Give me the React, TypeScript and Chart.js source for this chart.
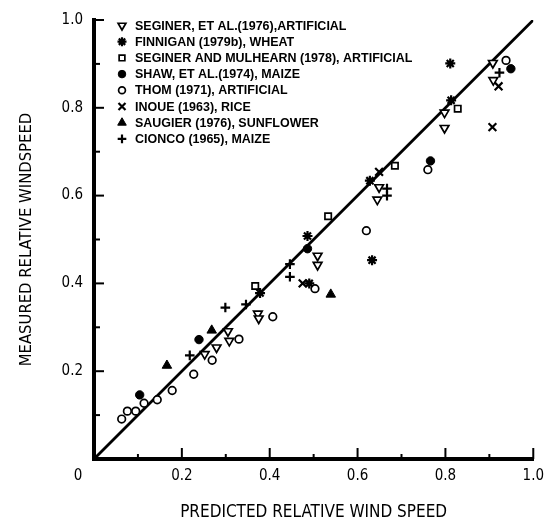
import React, { useEffect, useRef } from "react";
import { Chart, registerables } from "chart.js";
import { drawPoint } from "chart.js/helpers";
Chart.register(...registerables);

// ---- data (predicted, measured) ----
const seginerEtAl: number[][] = [
  [0.252, 0.239], [0.279, 0.254], [0.305, 0.291], [0.308, 0.269], [0.373, 0.331], [0.375, 0.32],
  [0.509, 0.463], [0.509, 0.442], [0.649, 0.619], [0.645, 0.591], [0.798, 0.789], [0.798, 0.754],
  [0.908, 0.902], [0.909, 0.863],
];
const finnigan: number[][] = [
  [0.378, 0.378], [0.486, 0.508], [0.49, 0.4], [0.628, 0.634], [0.633, 0.453], [0.813, 0.817], [0.811, 0.901],
];
const seginerMulhearn: number[][] = [
  [0.367, 0.394], [0.533, 0.553], [0.685, 0.668], [0.828, 0.798],
];
const shaw: number[][] = [
  [0.104, 0.146], [0.239, 0.272], [0.486, 0.479], [0.766, 0.679], [0.949, 0.889],
];
const thom: number[][] = [
  [0.063, 0.091], [0.076, 0.109], [0.095, 0.109], [0.114, 0.127], [0.144, 0.135], [0.178, 0.156],
  [0.227, 0.193], [0.269, 0.225], [0.33, 0.273], [0.407, 0.324], [0.503, 0.388], [0.62, 0.52],
  [0.76, 0.659], [0.938, 0.908],
];
const inoue: number[][] = [
  [0.475, 0.4], [0.649, 0.654], [0.921, 0.849], [0.907, 0.756],
];
const saugier: number[][] = [
  [0.166, 0.213], [0.268, 0.293], [0.539, 0.375],
];
const cionco: number[][] = [
  [0.218, 0.236], [0.299, 0.345], [0.346, 0.352], [0.446, 0.444], [0.446, 0.415],
  [0.667, 0.616], [0.667, 0.6], [0.923, 0.88],
];
const oneToOne: number[][] = [[0, 0], [1, 1]];

const seriesLabels = [
  "SEGINER, ET AL.(1976),ARTIFICIAL",
  "FINNIGAN (1979b), WHEAT",
  "SEGINER AND MULHEARN (1978), ARTIFICIAL",
  "SHAW, ET AL.(1974), MAIZE",
  "THOM (1971), ARTIFICIAL",
  "INOUE (1963), RICE",
  "SAUGIER (1976), SUNFLOWER",
  "CIONCO (1965), MAIZE",
];
const xTitle = "PREDICTED RELATIVE WIND SPEED";
const yTitle = "MEASURED RELATIVE WINDSPEED";

const seriesData = [seginerEtAl, finnigan, seginerMulhearn, shaw, thom, inoue, saugier, cionco];
const seriesStyles = [
  { pointStyle: "triangle", rotation: 180, fill: "#fff", radius: 5, bw: 1.7 },
  { pointStyle: "star", rotation: 0, fill: "#000", radius: 5, bw: 2.2 },
  { pointStyle: "rect", rotation: 0, fill: "#fff", radius: 4.5, bw: 1.7 },
  { pointStyle: "circle", rotation: 0, fill: "#000", radius: 4.2, bw: 1 },
  { pointStyle: "circle", rotation: 0, fill: "#fff", radius: 3.8, bw: 1.7 },
  { pointStyle: "crossRot", rotation: 0, fill: "#000", radius: 5.5, bw: 2.2 },
  { pointStyle: "triangle", rotation: 0, fill: "#000", radius: 5.5, bw: 1 },
  { pointStyle: "cross", rotation: 0, fill: "#000", radius: 4.8, bw: 2.2 },
];

const condensed = "'DejaVu Sans Condensed', 'Liberation Sans Narrow', 'DejaVu Sans', sans-serif";

const decorPlugin = {
  id: "decor",
  afterDraw(chart: any) {
    const { ctx, scales } = chart;
    const xs = scales.x;
    const ys = scales.y;
    ctx.save();
    ctx.strokeStyle = "#000";
    ctx.lineWidth = 2;
    // inward ticks
    xs.ticks.forEach((t: any) => {
      const v = t.value;
      if (Math.abs(v) < 1e-9) return;
      const major = Math.round(v * 10) % 2 === 0;
      const px = xs.getPixelForValue(v);
      ctx.beginPath();
      ctx.moveTo(px, ys.bottom);
      ctx.lineTo(px, ys.bottom - (major ? 11 : 5));
      ctx.stroke();
    });
    ys.ticks.forEach((t: any) => {
      const v = t.value;
      if (Math.abs(v) < 1e-9) return;
      const major = Math.round(v * 10) % 2 === 0;
      const py = ys.getPixelForValue(v);
      ctx.beginPath();
      ctx.moveTo(xs.left, py);
      ctx.lineTo(xs.left + (major ? 10 : 6), py);
      ctx.stroke();
    });
    // origin label
    ctx.fillStyle = "#000";
    ctx.font = `15px ${condensed}`;
    ctx.textAlign = "center";
    ctx.textBaseline = "middle";
    ctx.fillText("0", xs.getPixelForValue(0) - 16, ys.getPixelForValue(0) + 17);
    // legend
    const lx = xs.left + 28;
    const ly = ys.top + 5.5;
    seriesLabels.forEach((lab, i) => {
      const st = seriesStyles[i];
      const y = ly + i * 16.2;
      ctx.fillStyle = st.fill;
      ctx.strokeStyle = "#000";
      ctx.lineWidth = st.bw;
      drawPoint(ctx, { pointStyle: st.pointStyle, rotation: st.rotation, radius: st.radius * 0.9, borderWidth: st.bw } as any, lx, y);
      ctx.fillStyle = "#000";
      ctx.font = `bold 13px 'Liberation Sans', Arial, sans-serif`;
      ctx.textAlign = "left";
      ctx.textBaseline = "middle";
      const w = ctx.measureText(lab).width;
      ctx.fillText(lab, lx + 13, y + 0.5, w * 0.96);
    });
    ctx.restore();
  },
};

export default function App() {
  const ref = useRef<HTMLCanvasElement | null>(null);
  useEffect(() => {
    if (!ref.current) return;
    const datasets: any[] = seriesData.map((d, i) => {
      const st = seriesStyles[i];
      return {
        type: "scatter",
        label: seriesLabels[i],
        data: d.map(([x, y]) => ({ x, y })),
        pointStyle: st.pointStyle,
        rotation: st.rotation,
        pointRadius: st.radius,
        pointBorderWidth: st.bw,
        pointBackgroundColor: st.fill,
        pointBorderColor: "#000",
        showLine: false,
      };
    });
    datasets.push({
      type: "line",
      label: "1:1",
      data: oneToOne.map(([x, y]) => ({ x, y })),
      borderColor: "#000",
      borderWidth: 2.8,
      pointRadius: 0,
      fill: false,
    });
    const tickCb = (v: any) => {
      const n = Number(v);
      const k = Math.round(n * 10);
      if (k === 0 || k % 2 !== 0) return "";
      return n.toFixed(1);
    };
    const chart = new Chart(ref.current, {
      type: "scatter",
      data: { datasets },
      options: {
        animation: false,
        responsive: false,
        layout: { padding: { top: 16, right: 17, left: 0, bottom: 0 } },
        plugins: { legend: { display: false }, tooltip: { enabled: false } },
        scales: {
          x: {
            type: "linear",
            min: 0,
            max: 1,
            afterFit: (s: any) => { s.height = 68; },
            grid: { display: false, drawTicks: false },
            border: { display: true, width: 4, color: "#000" },
            ticks: {
              stepSize: 0.1,
              padding: 8,
              color: "#000",
              font: { family: condensed, size: 15 },
              maxRotation: 0,
              autoSkip: false,
              callback: tickCb,
            },
            title: {
              display: true,
              text: xTitle,
              color: "#000",
              font: { family: condensed, size: 17 },
              padding: { top: 0, bottom: 3.8 },
            },
          },
          y: {
            type: "linear",
            min: 0,
            max: 1,
            afterFit: (s: any) => { s.width = 94; },
            grid: { display: false, drawTicks: false },
            border: { display: true, width: 4, color: "#000" },
            ticks: {
              stepSize: 0.1,
              padding: 11,
              color: "#000",
              font: { family: condensed, size: 15 },
              autoSkip: false,
              callback: tickCb,
            },
            title: {
              display: true,
              text: yTitle,
              color: "#000",
              font: { family: condensed, size: 16.5 },
              padding: { top: 17.1, bottom: 0 },
            },
          },
        },
      },
      plugins: [decorPlugin],
    } as any);
    return () => chart.destroy();
  }, []);
  return (
    <div style={{ position: "absolute", left: 0, top: 0, width: 552, height: 527, background: "#fff" }}>
      <canvas ref={ref} width={552} height={527} style={{ display: "block" }} />
    </div>
  );
}
